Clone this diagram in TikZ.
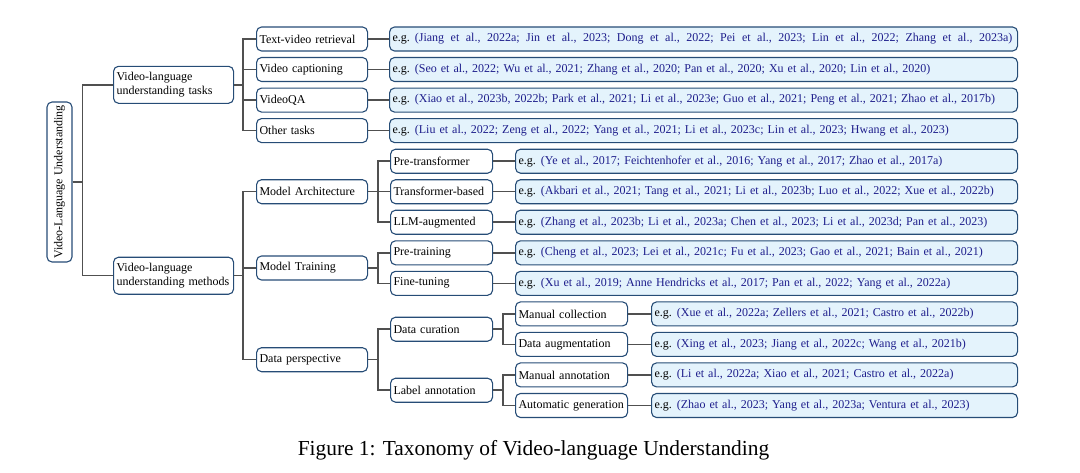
\documentclass[tikz,border=0pt]{standalone}
\usepackage{fontspec}
\setmainfont{Liberation Serif}
\definecolor{boxblue}{RGB}{38,76,118}
\definecolor{citeblue}{RGB}{30,30,140}
\definecolor{leafblue}{RGB}{228,243,252}
\definecolor{linegray}{RGB}{80,80,80}
\newcommand{\eg}[1]{\mbox{e.g.\hspace{5pt}\textcolor{citeblue}{(#1)}}}
\begin{document}
\begin{tikzpicture}[x=1pt, y=-1pt, font=\fontsize{12}{14.5}\selectfont, %{,}
  box/.style={draw=boxblue, line width=1.1pt, rounded corners=5pt, anchor=west, align=left,
    text width=#1pt, inner xsep=3pt, inner ysep=2pt, minimum height=24pt},
  leaf/.style={box=#1, fill=leafblue},
  edge/.style={draw=linegray, line width=1.5pt}]
\useasboundingbox (0,0) rectangle (1080,472);
\node[draw=boxblue, line width=1.1pt, rounded corners=5pt, rotate=90, minimum width=160pt, minimum height=25pt, inner sep=2pt] (P_0_0) at (59.5,182) {Video-Language Understanding};
\node[box=114, minimum height=37pt] (P_1_0) at (113,84.8) {Video-language\\understanding tasks};
\draw[edge] (P_0_0.south) -- ++(10,0) |- (P_1_0.west);
\node[box=114, minimum height=37pt] (P_1_1) at (113,275.7) {Video-language\\understanding methods};
\draw[edge] (P_0_0.south) -- ++(10,0) |- (P_1_1.west);
% tasks
\node[box=105] (P_2_0) at (256,39) {Text-video retrieval};
\draw[edge] (P_1_0.east) -- ++(9,0) |- (P_2_0.west);
\node[leaf=622] (C_0) at (389,39) {\spaceskip=6.5pt plus 1pt\eg{Jiang et al., 2022a; Jin et al., 2023; Dong et al., 2022; Pei et al., 2023; Lin et al., 2022; Zhang et al., 2023a}};
\draw[edge] (P_2_0.east) -- (C_0.west);
\node[box=105] (P_2_1) at (256,69.5) {Video captioning};
\draw[edge] (P_1_0.east) -- ++(9,0) |- (P_2_1.west);
\node[leaf=622] (C_1) at (389,69.5) {\eg{Seo et al., 2022; Wu et al., 2021; Zhang et al., 2020; Pan et al., 2020; Xu et al., 2020; Lin et al., 2020}};
\draw[edge] (P_2_1.east) -- (C_1.west);
\node[box=105] (P_2_2) at (256,100.1) {VideoQA};
\draw[edge] (P_1_0.east) -- ++(9,0) |- (P_2_2.west);
\node[leaf=622] (C_2) at (389,100.1) {\eg{Xiao et al., 2023b, 2022b; Park et al., 2021; Li et al., 2023e; Guo et al., 2021; Peng et al., 2021; Zhao et al., 2017b}};
\draw[edge] (P_2_2.east) -- (C_2.west);
\node[box=105] (P_2_3) at (256,130.6) {Other tasks};
\draw[edge] (P_1_0.east) -- ++(9,0) |- (P_2_3.west);
\node[leaf=622] (C_3) at (389,130.6) {\eg{Liu et al., 2022; Zeng et al., 2022; Yang et al., 2021; Li et al., 2023c; Lin et al., 2023; Hwang et al., 2023}};
\draw[edge] (P_2_3.east) -- (C_3.west);
% methods
\node[box=105] (P_2_4) at (256,191.7) {Model Architecture};
\draw[edge] (P_1_1.east) -- ++(9,0) |- (P_2_4.west);
\node[box=96] (P_3_0) at (390,161.2) {Pre-transformer};
\draw[edge] (P_2_4.east) -- ++(10,0) |- (P_3_0.west);
\node[leaf=496] (C_4) at (515,161.2) {\eg{Ye et al., 2017; Feichtenhofer et al., 2016; Yang et al., 2017; Zhao et al., 2017a}};
\draw[edge] (P_3_0.east) -- (C_4.west);
\node[box=96] (P_3_1) at (390,191.7) {Transformer-based};
\draw[edge] (P_2_4.east) -- ++(10,0) |- (P_3_1.west);
\node[leaf=496] (C_5) at (515,191.7) {\eg{Akbari et al., 2021; Tang et al., 2021; Li et al., 2023b; Luo et al., 2022; Xue et al., 2022b}};
\draw[edge] (P_3_1.east) -- (C_5.west);
\node[box=96] (P_3_2) at (390,222.2) {LLM-augmented};
\draw[edge] (P_2_4.east) -- ++(10,0) |- (P_3_2.west);
\node[leaf=496] (C_6) at (515,222.2) {\eg{Zhang et al., 2023b; Li et al., 2023a; Chen et al., 2023; Li et al., 2023d; Pan et al., 2023}};
\draw[edge] (P_3_2.east) -- (C_6.west);
\node[box=105] (P_2_5) at (256,268) {Model Training};
\draw[edge] (P_1_1.east) -- ++(9,0) |- (P_2_5.west);
\node[box=96] (P_3_3) at (390,252.8) {Pre-training};
\draw[edge] (P_2_5.east) -- ++(10,0) |- (P_3_3.west);
\node[leaf=496] (C_7) at (515,252.8) {\eg{Cheng et al., 2023; Lei et al., 2021c; Fu et al., 2023; Gao et al., 2021; Bain et al., 2021}};
\draw[edge] (P_3_3.east) -- (C_7.west);
\node[box=96] (P_3_4) at (390,283.3) {Fine-tuning};
\draw[edge] (P_2_5.east) -- ++(10,0) |- (P_3_4.west);
\node[leaf=496] (C_8) at (515,283.3) {\eg{Xu et al., 2019; Anne Hendricks et al., 2017; Pan et al., 2022; Yang et al., 2022a}};
\draw[edge] (P_3_4.east) -- (C_8.west);
\node[box=105] (P_2_6) at (256,359.7) {Data perspective};
\draw[edge] (P_1_1.east) -- ++(9,0) |- (P_2_6.west);
\node[box=96] (P_3_5) at (390,329.2) {Data curation};
\draw[edge] (P_2_6.east) -- ++(10,0) |- (P_3_5.west);
\node[box=106] (P_4_0) at (515,313.9) {Manual collection};
\draw[edge] (P_3_5.east) -- ++(10,0) |- (P_4_0.west);
\node[leaf=360] (C_9) at (651,313.9) {\eg{Xue et al., 2022a; Zellers et al., 2021; Castro et al., 2022b}};
\draw[edge] (P_4_0.east) -- (C_9.west);
\node[box=106] (P_4_1) at (515,344.4) {Data augmentation};
\draw[edge] (P_3_5.east) -- ++(10,0) |- (P_4_1.west);
\node[leaf=360] (C_10) at (651,344.4) {\eg{Xing et al., 2023; Jiang et al., 2022c; Wang et al., 2021b}};
\draw[edge] (P_4_1.east) -- (C_10.west);
\node[box=96] (P_3_6) at (390,390.2) {Label annotation};
\draw[edge] (P_2_6.east) -- ++(10,0) |- (P_3_6.west);
\node[box=106] (P_4_2) at (515,374.9) {Manual annotation};
\draw[edge] (P_3_6.east) -- ++(10,0) |- (P_4_2.west);
\node[leaf=360] (C_11) at (651,374.9) {\eg{Li et al., 2022a; Xiao et al., 2021; Castro et al., 2022a}};
\draw[edge] (P_4_2.east) -- (C_11.west);
\node[box=106] (P_4_3) at (515,405.5) {Automatic generation};
\draw[edge] (P_3_6.east) -- ++(10,0) |- (P_4_3.west);
\node[leaf=360] (C_12) at (651,405.5) {\eg{Zhao et al., 2023; Yang et al., 2023a; Ventura et al., 2023}};
\draw[edge] (P_4_3.east) -- (C_12.west);
\node[font=\fontsize{21.4}{24}\selectfont] (cap) at (533.5,450) {Figure 1: Taxonomy of Video-language Understanding};
\end{tikzpicture}
\end{document}
